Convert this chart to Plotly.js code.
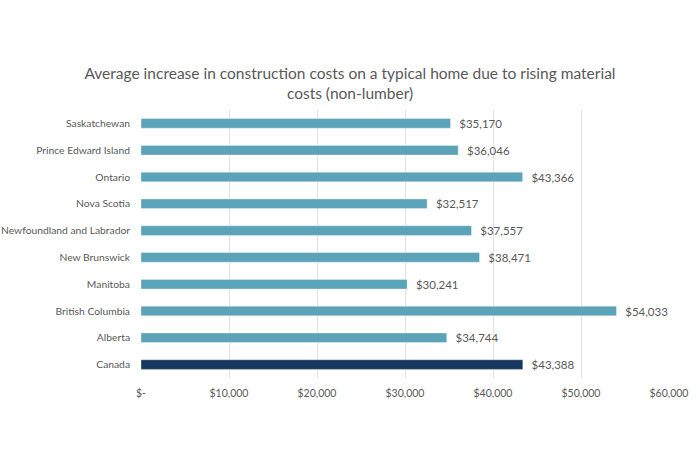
<!DOCTYPE html>
<html><head><meta charset="utf-8">
<script src="https://cdn.plot.ly/plotly-3.0.1.min.js"></script>
<style>html,body{margin:0;padding:0;background:#fff}#chart{width:700px;height:450px}</style>
</head><body><div id="chart"></div>
<script>
const regions = ["Canada","Alberta","British Columbia","Manitoba","New Brunswick","Newfoundland and Labrador","Nova Scotia","Ontario","Prince Edward Island","Saskatchewan"];
const costs = [43388,34744,54033,30241,38471,37557,32517,43366,36046,35170];
const labels = ["$43,388","$34,744","$54,033","$30,241","$38,471","$37,557","$32,517","$43,366","$36,046","$35,170"];
const tickVals = [0,10000,20000,30000,40000,50000,60000];
const tickText = ["$-","$10,000","$20,000","$30,000","$40,000","$50,000","$60,000"];
const barColors = regions.map(r => r === "Canada" ? "#17375E" : "#5BA3B9");
const FONT = "Lato, 'Open Sans', sans-serif";

const trace = {
  type: "bar", orientation: "h",
  x: costs, y: regions,
  text: labels, texttemplate: "\u2002%{text}", textposition: "outside", cliponaxis: false, constraintext: "none",
  textfont: {family: FONT, size: 11.5, color: "#595959"},
  marker: {color: barColors, line: {color: "rgba(255,255,255,0.35)", width: 1}},
  width: 0.36, hoverinfo: "none"
};
const layout = {
  width: 700, height: 450,
  margin: {l: 141, r: 31, t: 110, b: 72},
  paper_bgcolor: "#fff", plot_bgcolor: "#fff",
  font: {family: FONT, color: "#595959", size: 11},
  title: {text: "Average increase in construction costs on a typical home due to rising material<br>costs (non-lumber)",
          font: {size: 15.5, color: "#595959", family: FONT},
          x: 0.5, xanchor: "center", y: 0.825, yanchor: "middle", yref: "container"},
  xaxis: {range: [0, 60000], tickvals: tickVals, ticktext: tickText, showgrid: true, gridcolor: "#e3e3e3",
          zeroline: false, showline: false, ticks: "", tickfont: {size: 10.5, color: "#595959", family: FONT},
          ticklabelstandoff: 7, fixedrange: true},
  yaxis: {type: "category", categoryorder: "array", categoryarray: regions, showgrid: false, zeroline: false,
          showline: false, ticks: "", ticklen: 0, tickfont: {size: 10.3, color: "#595959", family: FONT}, automargin: false,
          ticklabelstandoff: 10, range: [-0.5, 9.5]},
  showlegend: false, bargap: 0.64
};
Plotly.newPlot("chart", [trace], layout, {displayModeBar: false, staticPlot: true});
</script></body></html>
